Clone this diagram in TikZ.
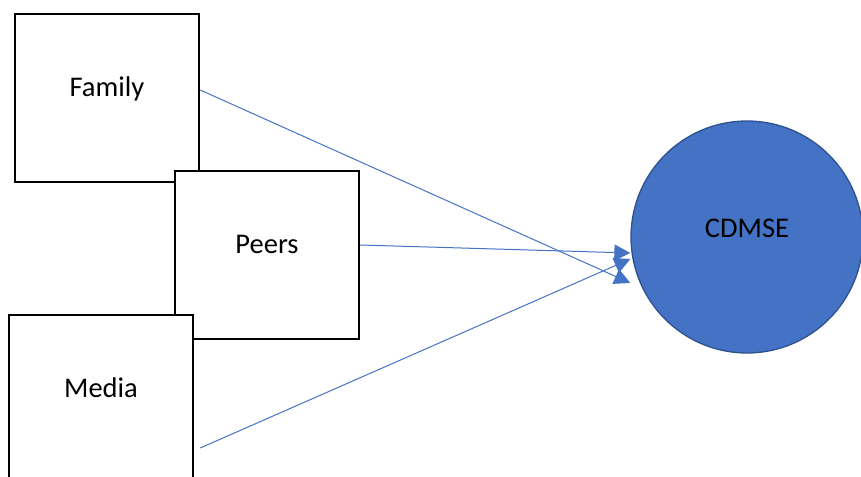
\documentclass[tikz,border=0pt]{standalone}
\usepackage{fontspec}
\setmainfont{Carlito}
\usetikzlibrary{arrows.meta}
\definecolor{accent}{HTML}{4472C4}
\definecolor{accentdark}{HTML}{2F528F}
\tikzset{
  factorbox/.style={draw=black, line width=2.4pt, fill=white, rectangle,
    minimum width=184pt, minimum height=168pt, inner sep=0pt},
  boxtext/.style={anchor=base, font=\fontsize{28.5}{34}\selectfont, inner sep=0pt},
  outcome/.style={circle, draw=accentdark, line width=1.3pt, fill=accent,
    minimum size=232pt, inner sep=0pt},
  link/.style={draw=accent, line width=1pt,
    -{Triangle[length=16pt,width=16pt]}},
}
\begin{document}
\begin{tikzpicture}[x=1pt, y=-1pt]
  \useasboundingbox (0,0) rectangle (861,476);

  % outcome circle
  \node[outcome] (cdmse) at (747,237) {};
  \node[boxtext] (cdmsetext) at (cdmse.center) {CDMSE};

  % three overlapping factor boxes (later ones on top)
  \node[factorbox] (family) at (107,98) {};
  \node[boxtext] (familytext) at ([yshift=2pt]family.center) {Family};

  \node[factorbox] (peers) at (267,255) {};
  \node[boxtext] (peerstext) at ([yshift=2pt]peers.center) {Peers};

  \node[factorbox] (media) at (101,399) {};
  \node[boxtext] (mediatext) at ([yshift=2pt]media.center) {Media};

  % influence arrows
  \coordinate (famend) at ([yshift=-46pt]cdmse.west);
  \coordinate (peersend) at ([yshift=-16pt]cdmse.west);
  \coordinate (mediaend) at ([yshift=-22pt]cdmse.west);
  \coordinate (mediastart) at ([shift={(6pt,-49pt)}]media.east);

  \draw[link] ([yshift=8pt]family.east) -- (famend);
  \draw[link] ([yshift=10pt]peers.east) -- (peersend);
  \draw[link] (mediastart) -- (mediaend);
\end{tikzpicture}
\end{document}
